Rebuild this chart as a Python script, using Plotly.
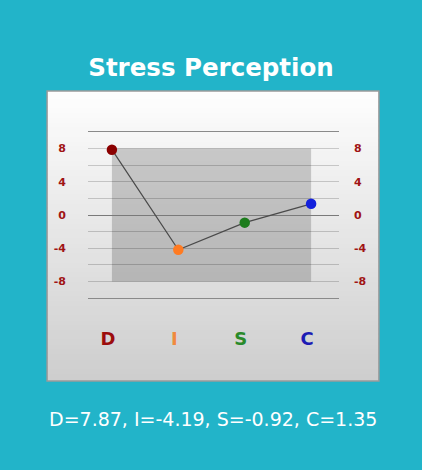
import plotly.graph_objects as go

# DISC values
categorias = ["D", "I", "S", "C"]
valores = [7.87, -4.19, -0.92, 1.35]
colores_punto = ["#8b0000", "#ff7b22", "#1c7c1c", "#1320dc"]
colores_letra = ["#9c0c0c", "#f08a3e", "#2a8a2a", "#1c1cb4"]
ticks_y = [8, 4, 0, -4, -8]
grid_y = [-10, -8, -6, -4, -2, 0, 2, 4, 6, 8, 10]

TEAL = "#22b4c9"
x_pos = list(range(len(categorias)))

fig = go.Figure()
fig.add_trace(go.Scatter(
    x=x_pos, y=valores, mode="lines+markers",
    line=dict(color="#4a4a4a", width=1.2),
    marker=dict(size=10.5, color=colores_punto),
    hoverinfo="skip", showlegend=False,
))
# empty trace so that the right-hand axis gets drawn
fig.add_trace(go.Scatter(x=[None], y=[None], yaxis="y2",
                         hoverinfo="skip", showlegend=False))

# Card background: vertical gradient built from thin strips (paper coords)
y_top, y_bot = 1.247, -0.5
n = 60
for i in range(n):
    t = i / (n - 1)
    g = int(round(254 - 48 * t))
    fig.add_shape(
        type="rect", xref="paper", yref="paper", layer="below",
        x0=-0.163, x1=1.159,
        y0=y_top - (y_top - y_bot) * (i + 1) / n,
        y1=min(y_top, y_top - (y_top - y_bot) * i / n + 0.015),
        fillcolor=f"rgb({g},{g},{g})", line=dict(width=0),
    )
fig.add_shape(
    type="rect", xref="paper", yref="paper", layer="below",
    x0=-0.163, x1=1.159, y0=y_bot, y1=y_top,
    line=dict(color="#9a9a9a", width=1.5), fillcolor="rgba(0,0,0,0)",
)
# shaded band behind the data
fig.add_shape(
    type="rect", xref="x", yref="y", layer="below",
    x0=0, x1=3, y0=-8, y1=8,
    fillcolor="rgba(0,0,0,0.18)", line=dict(width=0),
)

tick_font = dict(family="DejaVu Sans", size=11, color="#a01414", weight="bold")

fig.update_layout(
    width=422, height=470,
    paper_bgcolor=TEAL, plot_bgcolor="rgba(0,0,0,0)",
    margin=dict(l=88, r=83, t=132, b=172),
    title=dict(
        text="<b>Stress Perception</b>", x=0.5, xref="container",
        y=1 - 67 / 470, yanchor="middle",
        font=dict(family="DejaVu Sans", size=24.5, color="white"),
    ),
    xaxis=dict(
        range=[-0.36, 3.42], tickvals=x_pos,
        ticktext=[f"<span style='color:{c}'><b>{k}</b></span>"
                  for k, c in zip(categorias, colores_letra)],
        tickfont=dict(family="DejaVu Sans", size=18),
        ticks="", showgrid=False, zeroline=False,
        showline=True, mirror=True, linecolor="#8a8a8a", linewidth=1,
        ticklabelstandoff=24, ticklabelshift=-4, fixedrange=True,
    ),
    yaxis=dict(
        range=[-10, 10], tickvals=grid_y,
        ticktext=[str(v) if v in ticks_y else "" for v in grid_y],
        tickfont=tick_font, ticks="",
        showgrid=True, gridcolor="rgba(0,0,0,0.18)", gridwidth=1,
        zeroline=True, zerolinecolor="#7a7a7a", zerolinewidth=1,
        ticklabelstandoff=21, fixedrange=True,
    ),
    yaxis2=dict(
        range=[-10, 10], overlaying="y", side="right",
        tickvals=ticks_y, ticktext=[str(v) for v in ticks_y],
        tickfont=tick_font, ticks="", showgrid=False, zeroline=False,
        ticklabelstandoff=14, fixedrange=True,
    ),
    annotations=[dict(
        text=", ".join(f"{k}={v}" for k, v in zip(categorias, valores)),
        xref="paper", yref="paper", x=0.498, y=-0.729,
        xanchor="center", yanchor="middle", showarrow=False,
        font=dict(family="DejaVu Sans", size=19, color="white"),
    )],
)

fig.write_html("out.html", config={"displayModeBar": False},
               post_script="document.body.style.margin='0';")
